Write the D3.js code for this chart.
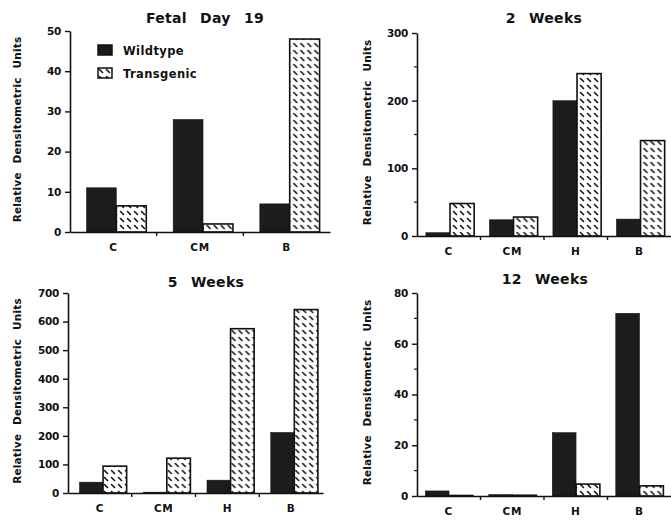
<!DOCTYPE html>
<html>
<head>
<meta charset="utf-8">
<script src="https://cdn.jsdelivr.net/npm/d3@7"></script>
<style>
  body { margin: 0; background: #fff; }
  svg text { font-family: "DejaVu Sans", "Liberation Sans", Arial, sans-serif; font-weight: bold; fill: #111; }
</style>
</head>
<body>
<div id="graph"></div>
<script>
// data
var series = ["Wildtype", "Transgenic"];

var fetalCategories = ["C", "CM", "B"];
var fetalWildtype = [11, 28, 7];
var fetalTransgenic = [6.5, 2, 48];
var fetalTicks = [0, 10, 20, 30, 40, 50];

var weeks2Categories = ["C", "CM", "H", "B"];
var weeks2Wildtype = [5, 24, 200, 25];
var weeks2Transgenic = [48, 28, 240, 141];
var weeks2Ticks = [0, 100, 200, 300];
var weeks2Minor = [50, 150, 250];

var weeks5Categories = ["C", "CM", "H", "B"];
var weeks5Wildtype = [38, 3, 45, 212];
var weeks5Transgenic = [94, 122, 575, 642];
var weeks5Ticks = [0, 100, 200, 300, 400, 500, 600, 700];

var weeks12Categories = ["C", "CM", "H", "B"];
var weeks12Wildtype = [2, 0.6, 25, 72];
var weeks12Transgenic = [0.2, 0.3, 4.7, 4];
var weeks12Ticks = [0, 20, 40, 60, 80];
var weeks12Minor = [10, 30, 50, 70];

var yLabel = "Relative Densitometric Units";

//----------------------------------------------------------
var g_svg = d3.select("#graph")
  .append("svg")
    .attr("width", 671)
    .attr("height", 520);

var defs = g_svg.append("defs");
var pat = defs.append("pattern")
    .attr("id", "dash")
    .attr("patternUnits", "userSpaceOnUse")
    .attr("width", 7)
    .attr("height", 7);
pat.append("rect").attr("width", 7).attr("height", 7).attr("fill", "#fff");
pat.append("path")
    .attr("d", "M1.5,1.5L4.5,4.5")
    .attr("stroke", "#111")
    .attr("stroke-width", 1.6)
    .attr("stroke-linecap", "round");

var panels = [
    { title: "Fetal Day 19", cats: fetalCategories, wt: fetalWildtype, tg: fetalTransgenic,
      ticks: fetalTicks, minor: [], left: 70, right: 330, top: 31, bottom: 232,
      titleX: 205, titleY: 23, labelX: 17, off: 0.19, span: 0.69, legend: true },
    { title: "2 Weeks", cats: weeks2Categories, wt: weeks2Wildtype, tg: weeks2Transgenic,
      ticks: weeks2Ticks, minor: weeks2Minor, left: 417, right: 671, top: 33, bottom: 236,
      titleX: 544, titleY: 23, labelX: 367, off: 0.14, span: 0.76 },
    { title: "5 Weeks", cats: weeks5Categories, wt: weeks5Wildtype, tg: weeks5Transgenic,
      ticks: weeks5Ticks, minor: [], left: 68, right: 323, top: 293, bottom: 493,
      titleX: 206, titleY: 287, labelX: 17, off: 0.18, span: 0.74 },
    { title: "12 Weeks", cats: weeks12Categories, wt: weeks12Wildtype, tg: weeks12Transgenic,
      ticks: weeks12Ticks, minor: weeks12Minor, left: 417, right: 671, top: 293, bottom: 496,
      titleX: 545, titleY: 284, labelX: 367, off: 0.13, span: 0.75 }
];

function DrawPanel(p) {
    var g = g_svg.append("g");

    var x = d3.scaleBand()
        .domain(p.cats)
        .range([p.left, p.right])
        .padding(0);
    var bw = x.bandwidth();
    var xs = d3.scaleBand()
        .domain(series)
        .range([bw * p.off, bw * (p.off + p.span)]);
    var y = d3.scaleLinear()
        .domain([0, d3.max(p.ticks)])
        .range([p.bottom, p.top]);

    var rows = p.cats.map(function (c, i) {
        return { cat: c, values: [p.wt[i], p.tg[i]] };
    });

    var grp = g.selectAll("g.cat")
      .data(rows)
      .join("g")
        .attr("class", "cat")
        .attr("transform", function (d) { return "translate(" + x(d.cat) + ",0)"; });

    grp.selectAll("rect")
      .data(function (d) { return d.values.map(function (v, k) { return { s: series[k], v: v }; }); })
      .join("rect")
        .attr("x", function (d) { return xs(d.s); })
        .attr("width", xs.bandwidth())
        .attr("y", function (d) { return y(d.v); })
        .attr("height", function (d) { return y(0) - y(d.v); })
        .attr("fill", function (d) { return d.s === "Wildtype" ? "#1c1c1c" : "url(#dash)"; })
        .attr("stroke", "#111")
        .attr("stroke-width", function (d) { return d.s === "Wildtype" ? 0.5 : 1.6; });

    // y axis
    var ya = g.append("g")
        .attr("transform", "translate(" + p.left + ",0)")
        .call(d3.axisLeft(y).tickValues(p.ticks).tickSize(5).tickPadding(4).tickSizeOuter(0));
    ya.select(".domain").attr("stroke", "#111").attr("stroke-width", 1.6);
    ya.selectAll(".tick line").attr("stroke", "#111").attr("stroke-width", 1.4);
    ya.selectAll(".tick text").attr("font-size", 10.5).attr("letter-spacing", -0.3);

    g.selectAll("line.minor")
      .data(p.minor)
      .join("line")
        .attr("class", "minor")
        .attr("x1", p.left - 3).attr("x2", p.left)
        .attr("y1", function (d) { return y(d); })
        .attr("y2", function (d) { return y(d); })
        .attr("stroke", "#111").attr("stroke-width", 1.2);

    // x axis
    var xa = g.append("g")
        .attr("transform", "translate(0," + p.bottom + ")")
        .call(d3.axisBottom(x).tickSize(0).tickPadding(12).tickSizeOuter(0));
    xa.select(".domain").attr("stroke", "#111").attr("stroke-width", 1.6);
    xa.selectAll(".tick text").attr("font-size", 10.5).attr("letter-spacing", 0.6);

    g.selectAll("line.sep")
      .data(p.cats.slice(1))
      .join("line")
        .attr("class", "sep")
        .attr("x1", function (d) { return x(d); })
        .attr("x2", function (d) { return x(d); })
        .attr("y1", p.bottom).attr("y2", p.bottom + 4)
        .attr("stroke", "#111").attr("stroke-width", 1.4);

    // title
    g.append("text")
        .attr("x", p.titleX)
        .attr("y", p.titleY)
        .attr("text-anchor", "middle")
        .attr("font-size", 14)
        .attr("letter-spacing", 0.3)
        .attr("word-spacing", 8)
        .text(p.title);

    // y label
    g.append("text")
        .attr("transform", "translate(" + p.labelX + "," + ((p.top + p.bottom) / 2 - 2) + ") rotate(-90)")
        .attr("text-anchor", "middle")
        .attr("dy", "0.35em")
        .attr("font-size", 10.5)
        .attr("letter-spacing", 0.2)
        .attr("word-spacing", 5)
        .text(yLabel);

    if (p.legend) {
        var lg = g.append("g").attr("transform", "translate(98,45)");
        var items = lg.selectAll("g")
          .data(series)
          .join("g")
            .attr("transform", function (d, i) { return "translate(0," + i * 23 + ")"; });
        items.append("rect")
            .attr("width", 14).attr("height", 10)
            .attr("fill", function (d) { return d === "Wildtype" ? "#1c1c1c" : "url(#dash)"; })
            .attr("stroke", "#111").attr("stroke-width", 1.5);
        items.append("text")
            .attr("x", 25).attr("y", 9.5)
            .attr("font-size", 11.5)
            .attr("letter-spacing", 0.4)
            .text(function (d) { return d; });
    }
}

panels.forEach(DrawPanel);
</script>
</body>
</html>
